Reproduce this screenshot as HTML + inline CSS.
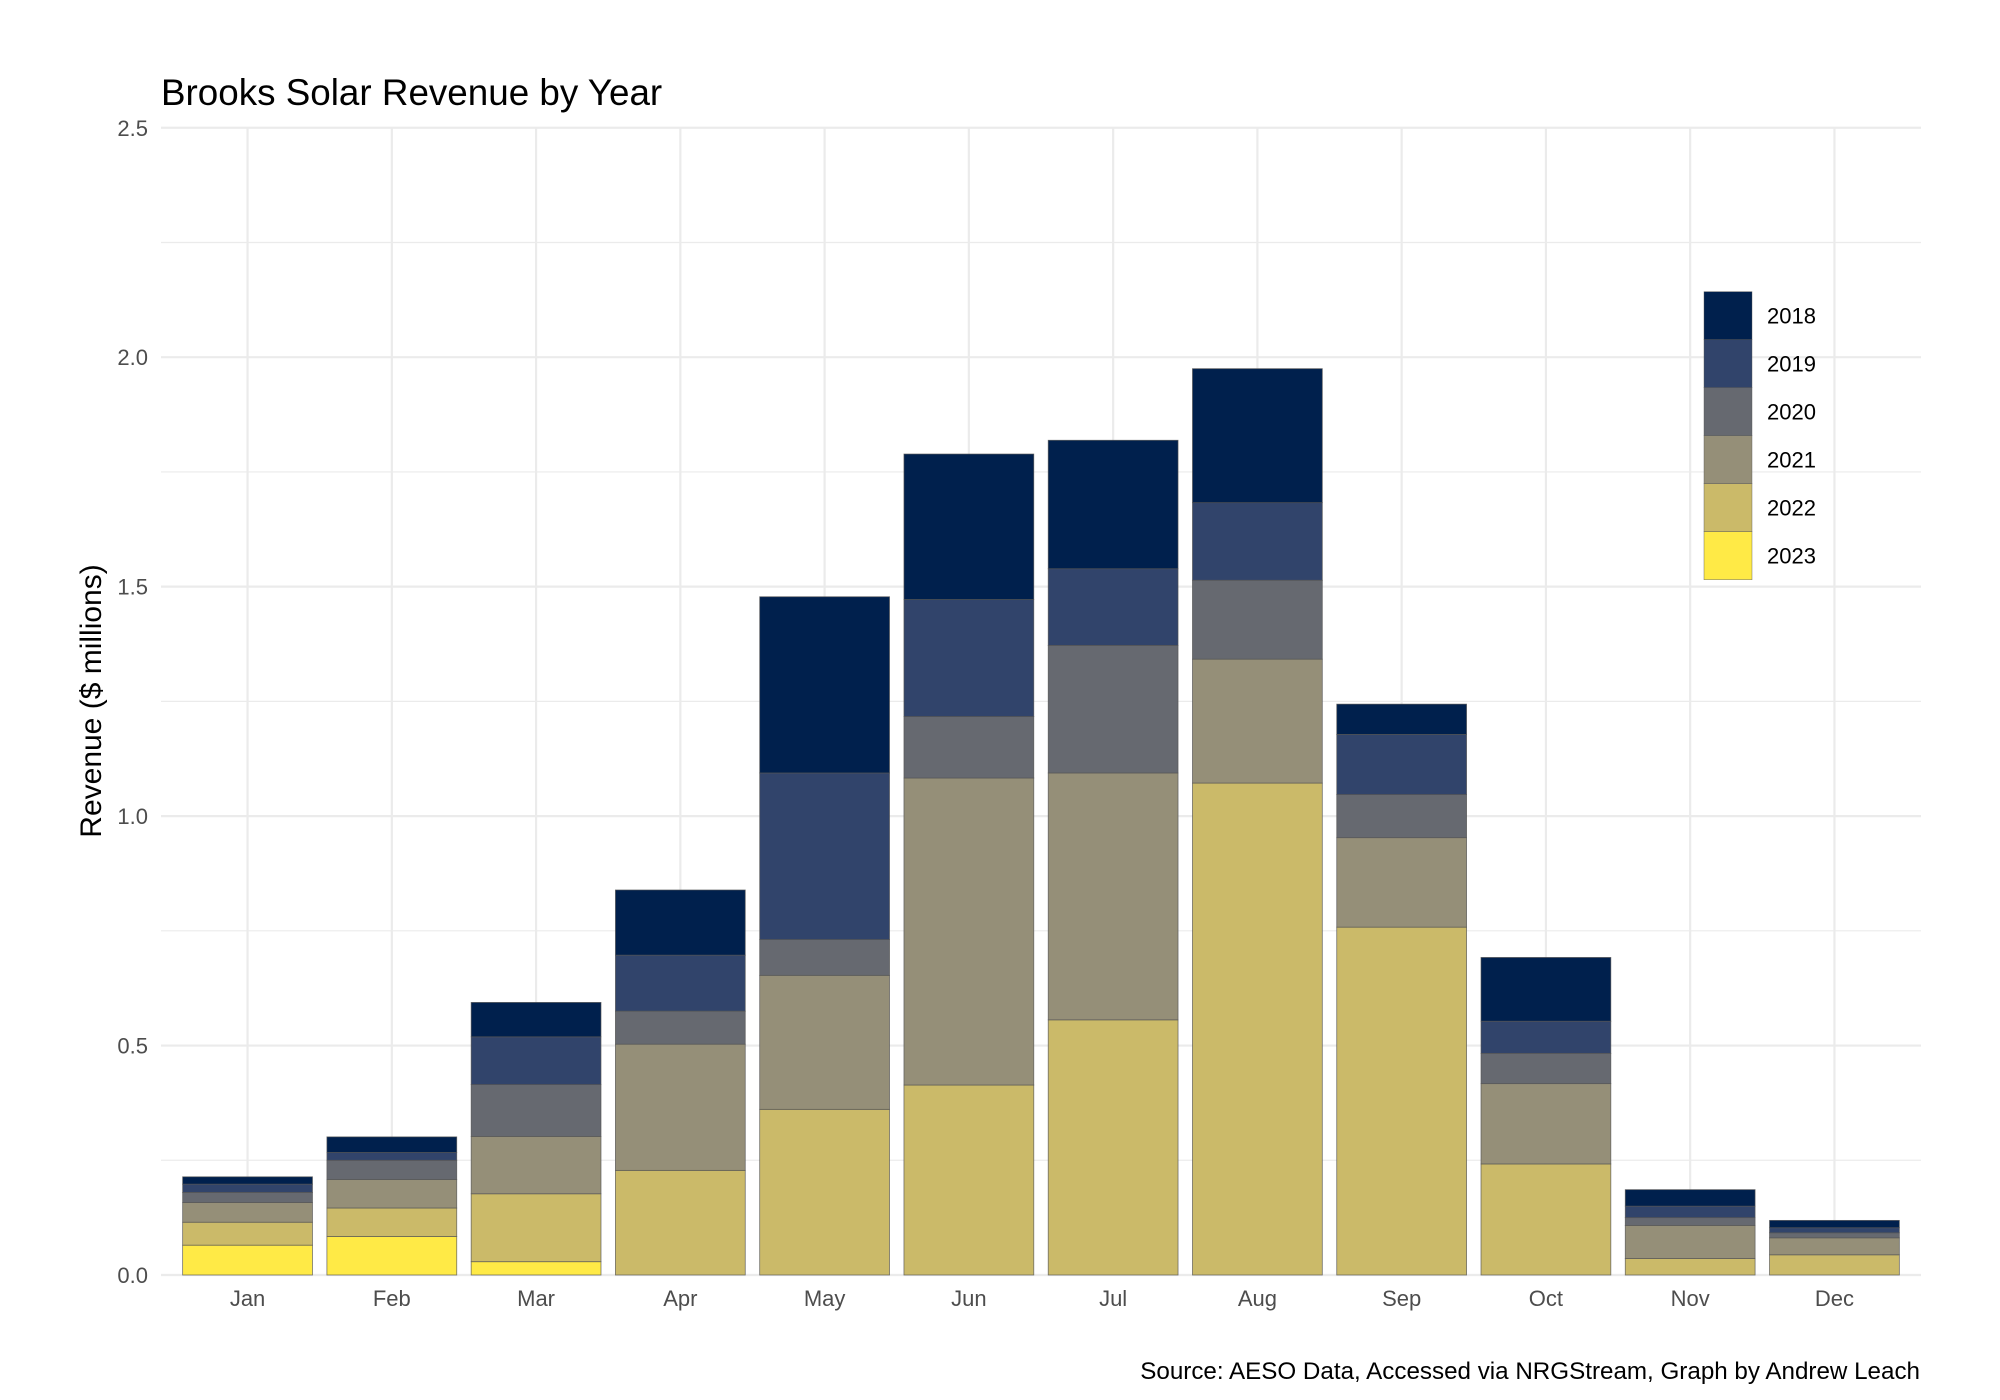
<!DOCTYPE html>
<html><head><meta charset="utf-8"><style>
html,body{margin:0;padding:0;background:#fff;}
svg{display:block;font-family:"Liberation Sans",Arial,sans-serif;}
</style></head><body>
<svg id="chart" width="2000" height="1400" viewBox="0 0 2000 1400" xmlns="http://www.w3.org/2000/svg">
<rect width="2000" height="1400" fill="#fff"/>
<g id="grid"></g>
<g id="bars"></g>
<g id="axes"></g>
<g id="legend"></g>
<text x="161" y="105" font-size="36.8" fill="#000">Brooks Solar Revenue by Year</text>
<text transform="translate(101,701) rotate(-90)" text-anchor="middle" font-size="30" fill="#000">Revenue ($ millions)</text>
<text x="1920" y="1379" text-anchor="end" font-size="24.2" fill="#000">Source: AESO Data, Accessed via NRGStream, Graph by Andrew Leach</text>
</svg>
<script>
const months = ["Jan","Feb","Mar","Apr","May","Jun","Jul","Aug","Sep","Oct","Nov","Dec"];
const years = ["2018","2019","2020","2021","2022","2023"];
const yearColors = ["#00204d","#31446b","#666970","#958f78","#cbba69","#ffea46"];
const rev2023 = [0.065,0.084,0.029,0,0,0,0,0,0,0,0,0];
const rev2022 = [0.050,0.062,0.148,0.228,0.361,0.414,0.556,1.072,0.758,0.242,0.036,0.044];
const rev2021 = [0.043,0.062,0.125,0.275,0.292,0.669,0.538,0.270,0.195,0.175,0.072,0.037];
const rev2020 = [0.022,0.042,0.113,0.072,0.078,0.134,0.278,0.172,0.094,0.066,0.017,0.011];
const rev2019 = [0.018,0.017,0.104,0.122,0.363,0.255,0.167,0.169,0.131,0.070,0.025,0.011];
const rev2018 = [0.016,0.034,0.075,0.142,0.384,0.317,0.280,0.292,0.066,0.139,0.036,0.016];
const yTicks = [0,0.5,1.0,1.5,2.0,2.5];
const yTickLabels = ["0.0","0.5","1.0","1.5","2.0","2.5"];

const NS="http://www.w3.org/2000/svg";
const plotL=161, plotR=1921, y0=1275, pxPerUnit=458.9;
const step=(plotR-plotL)/(months.length+0.2);
const bw=step*0.9;
function xScale(i){return plotL+step*(0.6+i);}
function yScale(v){return y0-v*pxPerUnit;}
function mk(tag,attrs,parent){const e=document.createElementNS(NS,tag);for(const k in attrs)e.setAttribute(k,attrs[k]);parent.appendChild(e);return e;}

const grid=document.getElementById('grid');
for(let v=0.25;v<2.5;v+=0.5){
  const l=mk('line',{x1:plotL,x2:plotR,y1:yScale(v),y2:yScale(v),stroke:'#ebebeb','stroke-width':1.2},grid);
  
  
}
yTicks.forEach((v,i)=>{
  const l=mk('line',{x1:plotL,x2:plotR,y1:yScale(v),y2:yScale(v),stroke:'#ebebeb','stroke-width':2.2},grid);
  
  
});
months.forEach((m,i)=>{
  const l=mk('line',{x1:xScale(i),x2:xScale(i),y1:yScale(2.5),y2:y0,stroke:'#ebebeb','stroke-width':2.2},grid);
  
  
});

const axes=document.getElementById('axes');
yTicks.forEach((v,i)=>{
  const t=mk('text',{x:148,y:yScale(v)+8,'text-anchor':'end','font-size':22,fill:'#4d4d4d'},axes);
  t.textContent=yTickLabels[i];
  
  
});
months.forEach((m,i)=>{
  const t=mk('text',{x:xScale(i),y:1306,'text-anchor':'middle','font-size':22,fill:'#4d4d4d'},axes);
  t.textContent=m;
  
  
});

const series=[rev2023,rev2022,rev2021,rev2020,rev2019,rev2018];
const seriesColors=[yearColors[5],yearColors[4],yearColors[3],yearColors[2],yearColors[1],yearColors[0]];
const seriesYears=[years[5],years[4],years[3],years[2],years[1],years[0]];
const bars=document.getElementById('bars');
months.forEach((m,i)=>{
  let cum=0;
  series.forEach((s,k)=>{
    const v=s[i];
    if(v<=0)return;
    const top=yScale(cum+v), bot=yScale(cum);
    const r=mk('rect',{x:xScale(i)-bw/2,y:top,width:bw,height:bot-top,fill:seriesColors[k],stroke:'#555','stroke-width':0.8,'stroke-opacity':0.8},bars);
    
    
    cum+=v;
  });
});

const legend=document.getElementById('legend');
years.forEach((y,i)=>{
  const ky=291.7+i*48;
  const r=mk('rect',{x:1704,y:ky,width:48,height:48,fill:yearColors[i],stroke:'#555','stroke-width':0.6,'stroke-opacity':0.7},legend);
  
  
  const t=mk('text',{x:1767,y:ky+32,'font-size':22,fill:'#000'},legend);
  t.textContent=y;
  
  
});
</script>
</body></html>
